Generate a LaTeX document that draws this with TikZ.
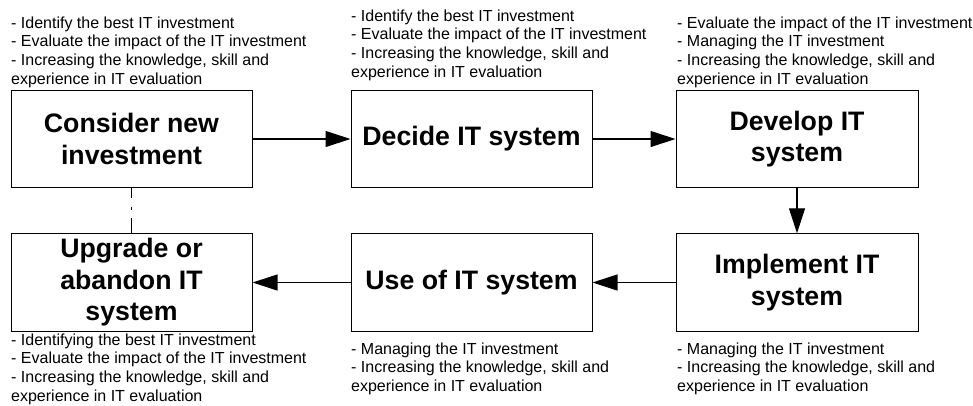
\documentclass[tikz,border=0pt]{standalone}
\usepackage{fontspec}
\setmainfont{Liberation Sans}
\usetikzlibrary{arrows.meta,calc}
\tikzset{
  stagebox/.style={draw=black, line width=1pt, minimum width=241pt, minimum height=97.5pt,
    inner sep=0pt, align=center, font=\fontsize{26.7}{31.5}\selectfont\bfseries},
  note/.style={anchor=base west, inner sep=0pt},
  arr/.style={line width=1.1pt, -{Triangle[length=25pt,width=16pt]}},
  linkline/.style={line width=1.4pt, draw=black}
}
\newcommand{\notetext}[1]{\parbox[t]{330pt}{\fontsize{16}{18.7}\selectfont\raggedright #1}}
\begin{document}
\begin{tikzpicture}[x=1pt,y=-1pt]
\useasboundingbox (0,0) rectangle (973,405);
\node[stagebox] (c1) at (131.5,139) {Consider new\\investment};
\node[stagebox] (c2) at (471.5,139) {Decide IT system};
\node[stagebox, minimum width=242pt] (c3) at (797,139) {Develop IT\\system};
\node[stagebox, minimum width=242pt] (c6) at (797,282.5) {Implement IT\\system};
\node[stagebox] (c5) at (471.5,282.5) {Use of IT system};
\node[stagebox] (c4) at (131.5,282.5) {Upgrade or\\abandon IT\\system};

\draw[arr] (c1) -- (c2);
\draw[arr] (c2) -- (c3);
\draw[arr] (c3) -- (c6);
\draw[arr] (c6) -- (c5);
\draw[arr] (c5) -- (c4);
\coordinate (d1) at (131.5,198);
\coordinate (d2) at (131.5,206.5);
\coordinate (d3) at (131.5,209.5);
\coordinate (d4) at (131.5,218);
\draw[linkline] (c1.south) -- (d1);
\draw[linkline] (d2) -- (d3);
\draw[linkline] (d4) -- (c4.north);

\node[note] (n1) at (11,28) {\notetext{- Identify the best IT investment\\- Evaluate the impact of the IT investment\\- Increasing the knowledge, skill and\\experience in IT evaluation}};
\node[note] (n2) at (351,21) {\notetext{- Identify the best IT investment\\- Evaluate the impact of the IT investment\\- Increasing the knowledge, skill and\\experience in IT evaluation}};
\node[note] (n3) at (677,28) {\notetext{- Evaluate the impact of the IT investment\\- Managing the IT investment\\- Increasing the knowledge, skill and\\experience in IT evaluation}};
\node[note] (n4) at (11,345) {\notetext{- Identifying the best IT investment\\- Evaluate the impact of the IT investment\\- Increasing the knowledge, skill and\\experience in IT evaluation}};
\node[note] (n5) at (351,354) {\notetext{- Managing the IT investment\\- Increasing the knowledge, skill and\\experience in IT evaluation}};
\node[note] (n6) at (677,354) {\notetext{- Managing the IT investment\\- Increasing the knowledge, skill and\\experience in IT evaluation}};
\end{tikzpicture}
\end{document}
